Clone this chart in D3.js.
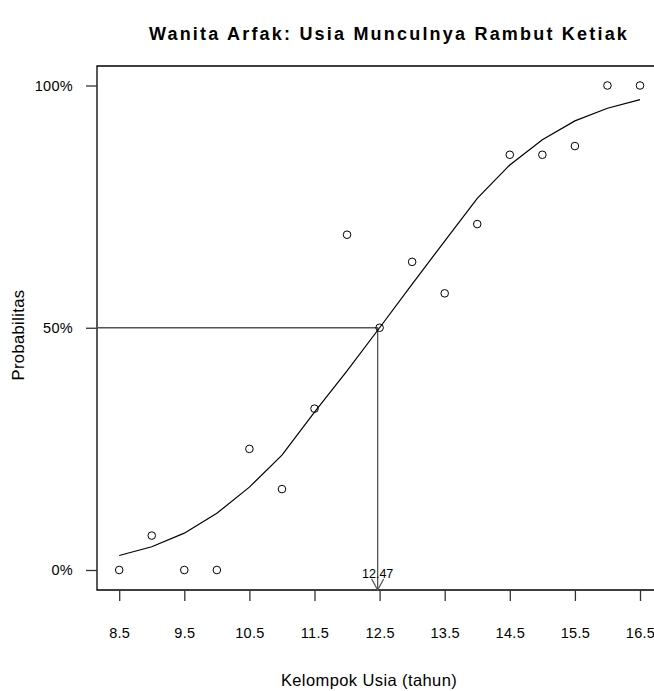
<!DOCTYPE html>
<meta charset="utf-8">
<style>
body {
  margin: 0;
  background: #fff;
}

text {
  font-family: "Liberation Sans", Arial, sans-serif;
  fill: #000;
}

.title {
  font-size: 18px;
  font-weight: bold;
  text-anchor: middle;
  letter-spacing: 2.2px;
}

.tick-label {
  font-size: 14.5px;
  letter-spacing: 0.3px;
}

.axis-label {
  font-size: 16.5px;
  text-anchor: middle;
  letter-spacing: 0.4px;
}

.frame {
  stroke: #000;
  stroke-width: 1.3px;
  fill: none;
}

.ref {
  stroke: #555;
  stroke-width: 1.3px;
  fill: none;
}

.fit {
  stroke: #000;
  stroke-width: 1.2px;
  fill: none;
}

.obs {
  fill: none;
  stroke: #000;
  stroke-width: 1px;
}
</style>
<svg width="654" height="691"></svg>
<script src="https://d3js.org/d3.v7.min.js"></script>

<script>

// age groups (tahun)
const ages = [8.5, 9, 9.5, 10, 10.5, 11, 11.5, 12, 12.5, 13, 13.5, 14, 14.5, 15, 15.5, 16, 16.5];

// observed proportion with armpit hair
const observed = [0, 0.071, 0, 0, 0.25, 0.167, 0.333, 0.692, 0.5, 0.636, 0.571, 0.714, 0.857, 0.857, 0.875, 1, 1];

// fitted probabilities
const fitted = [0.030, 0.048, 0.076, 0.117, 0.171, 0.237, 0.326, 0.411, 0.5, 0.59, 0.679, 0.767, 0.836, 0.888, 0.927, 0.953, 0.971];

const xTicks = [8.5, 9.5, 10.5, 11.5, 12.5, 13.5, 14.5, 15.5, 16.5];
const yTicks = [0, 0.5, 1];

const median = 12.47;
const medianLabel = '12.47';

const width = 654;
const height = 691;
const box = { left: 97, top: 66, bottom: 590 };

const x = d3.scaleLinear().domain([8.5, 16.5]).range([119.2, 640]);
const y = d3.scaleLinear().domain([0, 1]).range([570, 85.5]);

const svg = d3.select('svg')
  .attr('width', width)
  .attr('height', height);

// frame: left, top and bottom (right side runs off the picture)
svg.append('path')
  .attr('class', 'frame')
  .attr('d', `M${width},${box.top}H${box.left}V${box.bottom}H${width}`);

// y axis
const yAxis = svg.append('g')
  .attr('transform', `translate(${box.left},0)`)
  .call(d3.axisLeft(y).tickValues(yTicks).tickSize(11).tickPadding(13).tickFormat(d3.format('.0%')));
yAxis.select('.domain').remove();
yAxis.selectAll('.tick line').attr('stroke', '#333').attr('stroke-width', 1.3);
yAxis.selectAll('.tick text').attr('class', 'tick-label').attr('font-family', null).attr('font-size', null);

// x axis
const xAxis = svg.append('g')
  .attr('transform', `translate(0,${box.bottom})`)
  .call(d3.axisBottom(x).tickValues(xTicks).tickSize(11).tickPadding(27).tickFormat(d3.format('.1f')));
xAxis.select('.domain').remove();
xAxis.selectAll('.tick line').attr('stroke', '#333').attr('stroke-width', 1.3);
xAxis.selectAll('.tick text').attr('class', 'tick-label').attr('font-family', null).attr('font-size', null);

// reference lines to the 50% point
svg.append('path')
  .attr('class', 'ref')
  .attr('d', `M${box.left},${y(0.5)}H${x(median)}V${box.bottom}`);

svg.append('path')
  .attr('class', 'ref')
  .attr('d', `M${x(median) - 6},${box.bottom - 11}L${x(median)},${box.bottom}L${x(median) + 6},${box.bottom - 11}`);

svg.append('text')
  .attr('x', x(median))
  .attr('y', box.bottom - 12)
  .attr('text-anchor', 'middle')
  .style('font-size', '12.5px')
  .text(medianLabel);

// fitted curve
const line = d3.line()
  .x((d, i) => x(ages[i]))
  .y(d => y(d));

svg.append('path')
  .datum(fitted)
  .attr('class', 'fit')
  .attr('d', line);

// observed points
svg.selectAll('.obs')
  .data(observed)
  .enter().append('circle')
  .attr('class', 'obs')
  .attr('cx', (d, i) => x(ages[i]))
  .attr('cy', d => y(d))
  .attr('r', 3.8);

// labels
svg.append('text')
  .attr('class', 'title')
  .attr('x', 389)
  .attr('y', 40)
  .text('Wanita Arfak: Usia Munculnya Rambut Ketiak');

svg.append('text')
  .attr('class', 'axis-label')
  .attr('x', 369)
  .attr('y', 686)
  .text('Kelompok Usia (tahun)');

svg.append('text')
  .attr('class', 'axis-label')
  .attr('transform', `translate(24,335) rotate(-90)`)
  .text('Probabilitas');

</script>
